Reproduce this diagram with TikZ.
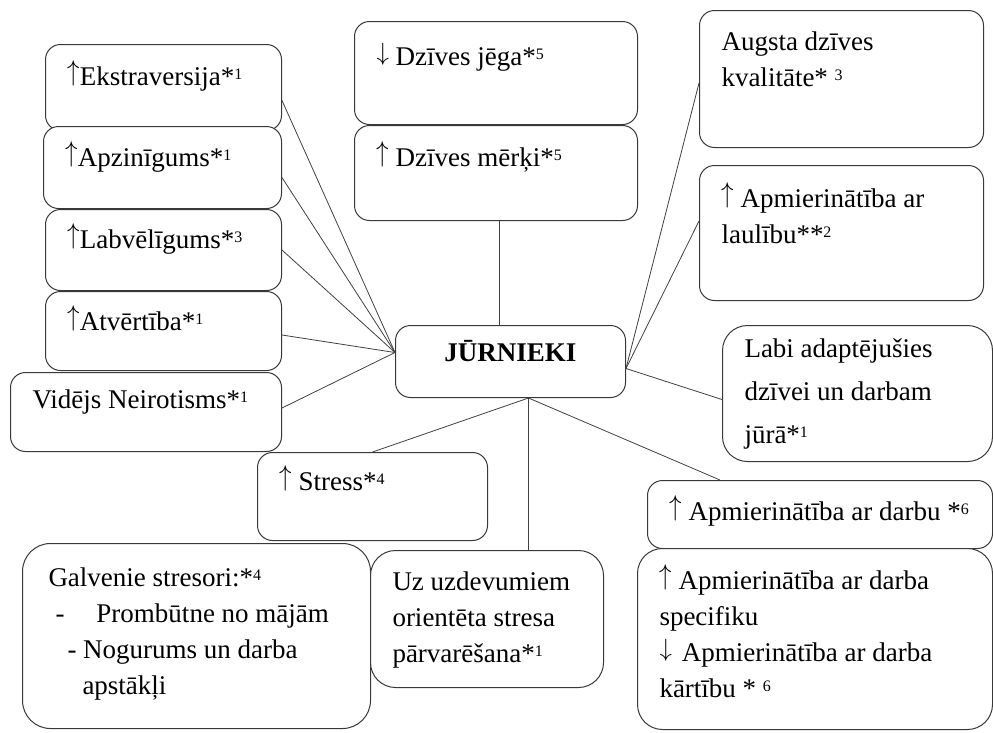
\documentclass[tikz,border=0pt]{standalone}
\usepackage{fontspec}
\setmainfont{Liberation Serif}
\usetikzlibrary{calc}

% text block in a box: [first baseline]{width}{height}{text}
\newcommand{\boxtext}[4][40]{\parbox[c][#3pt][t]{#2pt}{\raggedright\leftskip=22pt\rule{0pt}{#1pt}#4}}
\newcommand{\arrup}{\raisebox{5.5pt}{\scalebox{1}[1.15]{$\uparrow$}}}
\newcommand{\arrdn}{\raisebox{5pt}{$\downarrow$}}
\newcommand{\refno}[1]{\raisebox{6pt}{\fontsize{16pt}{16pt}\selectfont #1}}

\begin{document}
\begin{tikzpicture}[x=1pt,y=-1pt,
  blob/.style={draw=black!78,line width=1pt,fill=white,rounded corners=15pt,
    inner sep=0pt,anchor=north west,font=\fontsize{27pt}{36pt}\selectfont},
  link/.style={draw=black!75,line width=0.8pt}]
\useasboundingbox (0,0) rectangle (993,732);

% left column
\node[blob] (ekstra) at (45,44) {\boxtext[41]{236}{86}{\arrup{}Ekstraversija*\refno{1}}};
\node[blob] (apz) at (43,126) {\boxtext{238}{82}{\arrup{}Apzinīgums*\refno{1}}};
\node[blob] (labv) at (45,209) {\boxtext[39]{236}{81}{\arrup{}Labvēlīgums*\refno{3}}};
\node[blob] (atv) at (45,291) {\boxtext[39]{236}{79}{\arrup{}Atvērtība*\refno{1}}};
\node[blob] (vid) at (10,372) {\boxtext[36]{271}{79}{Vidējs Neirotisms*\refno{1}}};

% top
\node[blob] (jega) at (354,21) {\boxtext[44]{283}{103}{\arrdn{} Dzīves jēga*\refno{5}}};
\node[blob] (merki) at (354,125) {\boxtext[41]{283}{95}{\arrup{} Dzīves mērķi*\refno{5}}};

% right column
\node[blob] (augsta) at (699,10) {\boxtext{284}{137}{Augsta dzīves\\kvalitāte* \refno{3}}};
\node[blob] (laulibu) at (699,165) {\boxtext[42]{284}{135}{\arrup{} Apmierinātība ar\\laulību**\refno{2}}};
\node[blob,rounded corners=25pt] (labi) at (722,325) {\boxtext[32]{270}{136}{\baselineskip=43pt Labi adaptējušies\\dzīvei un darbam\\jūrā*\refno{1}}};

% centre
\node[blob] (jur) at (395,325) {\parbox[c][72pt][t]{230pt}{\centering\rule{0pt}{36pt}\textbf{JŪRNIEKI}}};

% bottom
\node[blob] (stress) at (257,452) {\boxtext[38]{230}{88}{\arrup{} Stress*\refno{4}}};
\node[blob,rounded corners=28pt] (galv) at (22,543) {\boxtext[43]{348}{185}{\hspace*{4pt}Galvenie stresori:*\refno{4}\\
  \hspace*{11pt}-\hspace{32pt}Prombūtne no mājām\\
  \hspace*{23pt}- Nogurums un darba\\
  \hspace*{38pt}apstākļi}};
\node[blob,rounded corners=25pt] (uz) at (370,550) {\boxtext{233}{137}{Uz uzdevumiem\\orientēta stresa\\pārvarēšana*\refno{1}}};
\node[blob] (darbu) at (647,480) {\boxtext{345}{68}{\arrup{} Apmierinātība ar darbu *\refno{6}}};
\node[blob,rounded corners=25pt] (spec) at (637,548) {\boxtext[41]{355}{181}{\arrup{} Apmierinātība ar darba\\specifiku\\\arrdn{}\hspace{10pt}Apmierinātība ar darba\\kārtību * \refno{6}}};

% connectors
\coordinate (jl) at ($(jur.west)+(0,-9)$);
\coordinate (jr) at ($(jur.east)+(0,7)$);
\coordinate (jb) at ($(jur.south)+(18,0)$);
\coordinate (jt) at ($(jur.north)+(-11,0)$);

\foreach \n/\d in {ekstra/13,apz/10,labv/0,atv/4,vid/-4}
  \draw[link] ($(\n.east)+(0,\d)$) -- (jl);
\draw[link] (jt) -- (jt |- merki.south);
\draw[link] (jr) -- ($(augsta.west)+(0,4)$);
\draw[link] (jr) -- ($(laulibu.west)+(0,-12)$);
\draw[link] (jr) -- ($(labi.west)+(0,6)$);
\draw[link] (jb) -- (stress.north);
\draw[link] (jb) -- (jb |- uz.north);
\draw[link] (jb) -- ($(darbu.north west)+(73,0)$);
\end{tikzpicture}
\end{document}
